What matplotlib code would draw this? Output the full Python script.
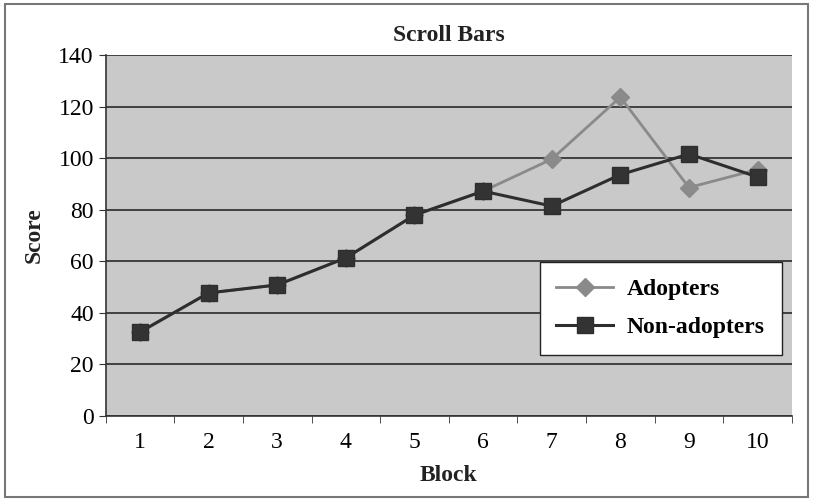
import numpy as np
import matplotlib.pyplot as plt
from matplotlib.patches import Rectangle

blocks = [1, 2, 3, 4, 5, 6, 7, 8, 9, 10]
adopters = [32.5, 47.7, 50.8, 61.3, 77.9, 87.2, 99.6, 123.7, 88.6, 95.6]
non_adopters = [32.5, 47.7, 50.8, 61.3, 77.9, 87.2, 81.4, 93.6, 101.6, 92.7]

plt.rcParams['font.family'] = ['Liberation Serif', 'DejaVu Serif']

fig = plt.figure(figsize=(8.13, 5.01), dpi=100)
fig.patches.append(Rectangle((0.006, 0.008), 0.988, 0.984, transform=fig.transFigure,
                             fill=False, edgecolor='#777777', linewidth=1.5))
ax = fig.add_axes([0.130, 0.170, 0.844, 0.720])
ax.set_facecolor('#c9c9c9')

ax.plot(blocks, adopters, color='#8a8a8a', linewidth=2, marker='D', markersize=9,
        markerfacecolor='#8a8a8a', markeredgecolor='#8a8a8a', label='Adopters')
ax.plot(blocks, non_adopters, color='#2e2e2e', linewidth=2.2, marker='s', markersize=11,
        markerfacecolor='#333333', markeredgecolor='#2e2e2e', label='Non-adopters')

ax.set_xlim(0.5, 10.5)
ax.set_ylim(0, 140)
ax.set_yticks(np.arange(0, 141, 20))
ax.set_xticks(blocks)
ax.set_xticks(np.arange(0.5, 10.6, 1), minor=True)
ax.tick_params(axis='x', which='major', length=0, labelsize=17, pad=12)
ax.tick_params(axis='x', which='minor', length=5, direction='out', color='#333333')
ax.tick_params(axis='y', length=5, direction='out', labelsize=17, color='#333333')
ax.yaxis.grid(True, color='#2a2a2a', linewidth=1.2)
ax.set_axisbelow(True)
for s in ['top', 'right']:
    ax.spines[s].set_visible(False)
for s in ['left', 'bottom']:
    ax.spines[s].set_color('#333333')
    ax.spines[s].set_linewidth(1.2)

ax.set_title('Scroll Bars', fontsize=17, fontweight='bold', pad=10, color='#222222')
ax.set_xlabel('Block', fontsize=17, fontweight='bold', labelpad=8, color='#222222')
ax.set_ylabel('Score', fontsize=17, fontweight='bold', labelpad=10, color='#222222')

leg = ax.legend(loc='lower right', bbox_to_anchor=(0.985, 0.169), borderaxespad=0,
                prop={'weight': 'bold', 'size': 17}, frameon=True, fancybox=False,
                handlelength=2.4, handletextpad=0.6, borderpad=0.7, labelspacing=0.7)
leg.get_frame().set_edgecolor('#222222')
leg.get_frame().set_facecolor('white')
leg.get_frame().set_alpha(1)

fig.savefig('out.png', dpi=100)
